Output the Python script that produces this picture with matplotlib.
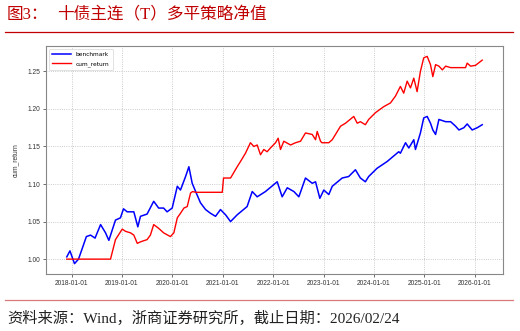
import matplotlib
matplotlib.use("Agg")
import matplotlib.pyplot as plt
import matplotlib.dates as mdates
from matplotlib.lines import Line2D
import pandas as pd

# ---- data ----
bench_dates = ["2017-11-27", "2017-12-20", "2018-01-22", "2018-02-20", "2018-03-15", "2018-04-18",
               "2018-05-18", "2018-06-20", "2018-07-30", "2018-09-04", "2018-09-28", "2018-11-15",
               "2018-12-21", "2019-01-12", "2019-02-08", "2019-03-28", "2019-04-26", "2019-05-15",
               "2019-07-02", "2019-08-19", "2019-09-24", "2019-10-30", "2019-11-24", "2019-12-31",
               "2020-02-06", "2020-02-29", "2020-04-06", "2020-04-30", "2020-05-24", "2020-06-18",
               "2020-07-23", "2020-08-29", "2020-10-04", "2020-11-09", "2020-12-15", "2021-01-21",
               "2021-02-26", "2021-04-15", "2021-06-26", "2021-08-02", "2021-09-07", "2021-11-06",
               "2022-01-30", "2022-03-07", "2022-04-13", "2022-05-31", "2022-07-06", "2022-08-23",
               "2022-10-11", "2022-11-04", "2022-12-05", "2023-01-03", "2023-02-08", "2023-03-05",
               "2023-05-16", "2023-07-02", "2023-08-20", "2023-09-25", "2023-10-31", "2023-11-24",
               "2024-01-24", "2024-04-06", "2024-06-29", "2024-07-11", "2024-08-17", "2024-09-10",
               "2024-10-16", "2024-10-28", "2024-12-03", "2024-12-27", "2025-01-21", "2025-02-14",
               "2025-03-03", "2025-03-23", "2025-04-16", "2025-06-04", "2025-07-10", "2025-08-15",
               "2025-09-08", "2025-10-14", "2025-11-07", "2025-12-13", "2026-01-19", "2026-02-24"]
benchmark = [1.003, 1.011, 0.994, 1.000, 1.012, 1.030,
             1.032, 1.028, 1.046, 1.035, 1.025, 1.052,
             1.055, 1.067, 1.063, 1.063, 1.043, 1.057,
             1.060, 1.077, 1.068, 1.068, 1.063, 1.068,
             1.097, 1.092, 1.110, 1.123, 1.101, 1.090,
             1.075, 1.066, 1.061, 1.057, 1.066, 1.059,
             1.050, 1.059, 1.070, 1.090, 1.083, 1.090,
             1.103, 1.083, 1.095, 1.090, 1.083, 1.108,
             1.101, 1.103, 1.081, 1.092, 1.086, 1.097,
             1.108, 1.110, 1.119, 1.108, 1.103, 1.110,
             1.121, 1.130, 1.143, 1.141, 1.155, 1.148,
             1.159, 1.146, 1.168, 1.188, 1.190, 1.181,
             1.172, 1.166, 1.186, 1.183, 1.183, 1.177,
             1.172, 1.175, 1.180, 1.172, 1.175, 1.179]

strat_dates = ["2017-11-27", "2018-10-10", "2018-11-15", "2019-01-03", "2019-01-27", "2019-03-04",
               "2019-03-28", "2019-04-22", "2019-05-15", "2019-07-02", "2019-07-26", "2019-08-19",
               "2019-09-24", "2019-10-30", "2019-12-18", "2020-01-12", "2020-02-06", "2020-02-29",
               "2020-03-25", "2020-04-18", "2020-05-12", "2020-05-27", "2020-06-18", "2020-12-28",
               "2021-01-06", "2021-02-26", "2021-04-15", "2021-05-09", "2021-06-14", "2021-07-20",
               "2021-08-14", "2021-09-07", "2021-10-01", "2021-10-25", "2021-11-18", "2021-12-12",
               "2022-01-18", "2022-02-06", "2022-02-23", "2022-03-19", "2022-05-07", "2022-06-12",
               "2022-07-18", "2022-08-23", "2022-10-11", "2022-11-04", "2022-11-16", "2022-12-10",
               "2022-12-20", "2023-02-08", "2023-03-05", "2023-05-04", "2023-06-09", "2023-08-08",
               "2023-09-02", "2023-09-25", "2023-10-31", "2023-11-24", "2024-01-12", "2024-03-12",
               "2024-04-30", "2024-06-05", "2024-07-11", "2024-08-04", "2024-08-29", "2024-09-22",
               "2024-10-16", "2024-11-09", "2024-12-03", "2024-12-27", "2025-01-21", "2025-02-14",
               "2025-03-03", "2025-03-23", "2025-04-16", "2025-05-11", "2025-06-04", "2025-07-10",
               "2025-10-26", "2025-11-07", "2025-12-01", "2026-01-06", "2026-02-24"]
cum_return = [1.000, 1.000, 1.026, 1.040, 1.037, 1.035,
              1.032, 1.021, 1.023, 1.026, 1.032, 1.046,
              1.041, 1.035, 1.030, 1.035, 1.055, 1.061,
              1.068, 1.070, 1.088, 1.090, 1.089, 1.089,
              1.108, 1.108, 1.123, 1.130, 1.141, 1.155,
              1.150, 1.152, 1.139, 1.146, 1.143, 1.148,
              1.155, 1.161, 1.146, 1.157, 1.152, 1.155,
              1.157, 1.168, 1.166, 1.159, 1.170, 1.157,
              1.155, 1.155, 1.159, 1.177, 1.181, 1.190,
              1.181, 1.183, 1.179, 1.186, 1.195, 1.203,
              1.208, 1.217, 1.230, 1.221, 1.237, 1.228,
              1.241, 1.223, 1.250, 1.268, 1.270, 1.259,
              1.243, 1.259, 1.257, 1.252, 1.257, 1.255,
              1.255, 1.261, 1.257, 1.258, 1.265]

y_ticks = [1.00, 1.05, 1.10, 1.15, 1.20, 1.25]
title_prefix = "图3："
title_text = "十债主连（T）多平策略净值"
source_text = "资料来源：Wind，浙商证券研究所，截止日期：2026/02/24"

# ---- figure ----
W, H = 520, 331
fig = plt.figure(figsize=(W / 100, H / 100), dpi=100)
fig.patch.set_facecolor("white")

serif_cjk = ["Liberation Serif", "Noto Sans CJK SC"]
red_title = "#c00000"

fig.text(7 / W, 1 - 15 / H, title_prefix, fontsize=12, color=red_title,
         family=serif_cjk, va="center", ha="left")
fig.text(57 / W, 1 - 15 / H, title_text, fontsize=12, color=red_title,
         family=serif_cjk, va="center", ha="left")
fig.add_artist(Line2D([5 / W, 513 / W], [1 - 32 / H, 1 - 32 / H],
                      transform=fig.transFigure, color=red_title, lw=0.9))
fig.add_artist(Line2D([5 / W, 513 / W], [1 - 300 / H, 1 - 300 / H],
                      transform=fig.transFigure, color="#d97a7a", lw=0.9))
fig.text(7 / W, 1 - 318 / H, source_text, fontsize=11, color="#222222",
         family=serif_cjk, va="center", ha="left", fontweight="light")

ax = fig.add_axes([46 / W, 57 / H, (503 - 46) / W, (274 - 46) / H])
ax.set_facecolor("white")

bd = pd.to_datetime(bench_dates)
sd = pd.to_datetime(strat_dates)
ax.plot(bd, benchmark, color="#0000ff", lw=1.1, label="benchmark")
ax.plot(sd, cum_return, color="#ff0000", lw=1.0, label="cum_return")

ax.set_yticks(y_ticks)
ax.yaxis.set_major_formatter(matplotlib.ticker.FormatStrFormatter("%.2f"))
ax.xaxis.set_major_locator(mdates.YearLocator())
ax.xaxis.set_major_formatter(mdates.DateFormatter("%Y-%m-%d"))

ax.grid(True, linestyle=":", color="#bbbbbb", lw=0.6)
for s in ax.spines.values():
    s.set_color("#888888")
    s.set_linewidth(0.8)
ax.tick_params(axis="both", labelsize=4.8, colors="#333333", length=2, width=0.5, pad=2)
for lab in ax.get_xticklabels() + ax.get_yticklabels():
    lab.set_family("Liberation Sans")
ax.set_ylabel("cum_return", fontsize=4.8, color="#333333", family="Liberation Sans", labelpad=6)

leg = ax.legend(loc="upper left", fontsize=4.2, frameon=True, handlelength=3.2,
                borderpad=0.6, labelspacing=0.6, fancybox=True)
leg.get_frame().set_edgecolor("#cccccc")
leg.get_frame().set_linewidth(0.5)

fig.savefig("out.png", dpi=100, facecolor="white")
